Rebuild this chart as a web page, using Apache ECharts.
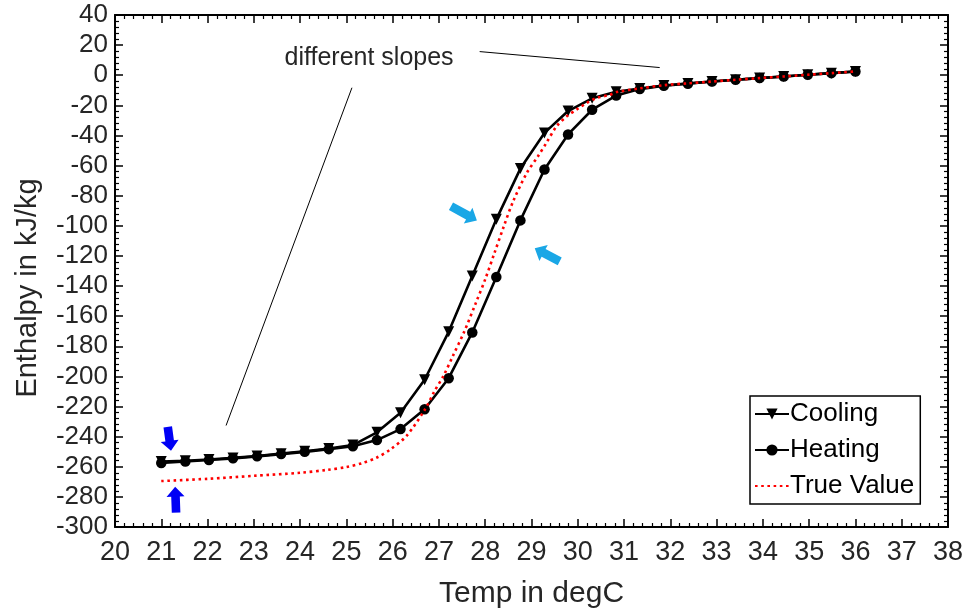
<!DOCTYPE html>
<html>
<head>
<meta charset="utf-8">
<script src="https://cdn.jsdelivr.net/npm/echarts@6/dist/echarts.min.js"></script>
<style>
  html, body { margin: 0; padding: 0; background: #fff; }
  #chart { width: 967px; height: 614px; }
</style>
</head>
<body>
<div id="chart"></div>
<script>
// Measured temperatures (degC) for the cooling and heating runs
const temps = [21.00, 21.52, 22.03, 22.55, 23.07, 23.59, 24.10, 24.62, 25.14, 25.66,
               26.17, 26.69, 27.21, 27.72, 28.24, 28.76, 29.28, 29.79, 30.31, 30.83,
               31.34, 31.86, 32.38, 32.90, 33.41, 33.93, 34.45, 34.97, 35.48, 36.00];

// Enthalpy (kJ/kg) while cooling
const cooling = [-256.5, -256.0, -255.2, -254.1, -252.8, -251.3, -249.7, -247.9, -245.6, -237.1,
                 -224.2, -202.2, -170.4, -133.3, -95.7, -62.0, -38.3, -23.8, -15.3, -11.0,
                 -8.8, -6.8, -5.5, -4.2, -3.0, -1.9, -0.8, 0.3, 1.4, 2.5];

// Enthalpy (kJ/kg) while heating
const heating = [-257.5, -256.5, -255.5, -254.4, -253.1, -251.6, -250.1, -248.3, -246.4, -242.3,
                 -235.0, -221.8, -201.2, -170.8, -134.0, -96.4, -62.6, -39.3, -22.9, -13.5,
                 -9.2, -7.0, -5.6, -4.2, -3.0, -1.9, -0.8, 0.3, 1.4, 2.5];

// Reference enthalpy curve
const trueTemps = [21.0, 22.0, 23.0, 24.0, 24.6, 25.0, 25.35, 25.65, 25.95, 26.3,
                   26.7, 26.9, 27.1, 27.3, 27.55, 27.8, 28.0, 28.2, 28.4, 28.6,
                   28.9, 29.14, 29.32, 29.54, 29.76, 29.97, 30.19, 30.40, 30.69, 30.84,
                   31.35, 31.86, 32.38, 32.90, 33.41, 33.93, 34.45, 34.97, 35.48, 36.0];
const trueValues = [-269.5, -268.0, -266.0, -264.0, -262.0, -260.2, -257.5, -254.0, -248.5, -239.5,
                    -221.8, -210.0, -199.5, -186.5, -170.0, -151.0, -135.5, -118.0, -100.5, -84.0,
                    -64.8, -53.8, -45.0, -34.0, -27.3, -22.9, -18.5, -15.2, -13.0, -11.2,
                    -8.7, -6.6, -5.4, -4.2, -3.0, -1.9, -0.8, 0.3, 1.4, 2.5];

// Axis ranges and tick steps
const xRange = [20, 38], xStep = 1;
const yRange = [-300, 40], yStep = 20;

const FONT = "'Liberation Sans', Arial, Helvetica, sans-serif";
const TEXT = '#262626';

const pairs = (xs, ys) => xs.map((x, i) => [x, ys[i]]);

const baseX = {
  type: 'value', min: xRange[0], max: xRange[1], interval: xStep,
  axisLine: { show: true, onZero: false, lineStyle: { color: '#000', width: 2 } },
  axisTick: { show: true, inside: true, length: 8, lineStyle: { color: '#000', width: 1.5 } },
  minorTick: { show: true, splitNumber: 5, length: 4, lineStyle: { color: '#000', width: 1.2 } },
  splitLine: { show: false }
};
const baseY = {
  type: 'value', min: yRange[0], max: yRange[1], interval: yStep,
  axisLine: { show: true, onZero: false, lineStyle: { color: '#000', width: 2 } },
  axisTick: { show: true, inside: true, length: 8, lineStyle: { color: '#000', width: 1.5 } },
  minorTick: { show: true, splitNumber: 5, length: 4, lineStyle: { color: '#000', width: 1.2 } },
  splitLine: { show: false }
};

const option = {
  animation: false,
  backgroundColor: '#fff',
  grid: { left: 115, top: 15, right: 19, bottom: 86, containLabel: false },
  xAxis: [
    Object.assign({}, baseX, {
      position: 'bottom',
      name: 'Temp in degC', nameLocation: 'middle', nameGap: 52,
      nameTextStyle: { fontFamily: FONT, fontSize: 30, color: TEXT },
      axisLabel: { fontFamily: FONT, fontSize: 27, color: TEXT, margin: 12 }
    }),
    Object.assign({}, baseX, { position: 'top', axisLabel: { show: false } })
  ],
  yAxis: [
    Object.assign({}, baseY, {
      position: 'left',
      axisLabel: { fontFamily: FONT, fontSize: 26, color: TEXT, margin: 7 }
    }),
    Object.assign({}, baseY, { position: 'right', axisLabel: { show: false } })
  ],
  legend: {
    orient: 'vertical', left: 750, top: 396,
    backgroundColor: '#fff', borderColor: '#000', borderWidth: 1.5, borderRadius: 0,
    padding: [5, 6, 5, 4], itemGap: 10, itemWidth: 34, itemHeight: 14,
    textStyle: { fontFamily: FONT, fontSize: 26, color: '#000', padding: [0, 0, 0, -4] },
    data: ['Cooling', 'Heating', { name: 'True Value', itemStyle: { opacity: 0 } }]
  },
  series: [
    {
      name: 'Cooling', type: 'line', data: pairs(temps, cooling),
      symbol: 'triangle', symbolRotate: 180, symbolSize: 11,
      lineStyle: { color: '#000', width: 2.6 }, itemStyle: { color: '#000' }, z: 3
    },
    {
      name: 'Heating', type: 'line', data: pairs(temps, heating),
      symbol: 'circle', symbolSize: 10.5,
      lineStyle: { color: '#000', width: 2.6 }, itemStyle: { color: '#000' }, z: 3
    },
    {
      name: 'True Value', type: 'line', data: pairs(trueTemps, trueValues),
      symbol: 'none', smooth: 0.3,
      lineStyle: { color: '#ff0000', width: 2.6, type: [2.6, 3.6] },
      itemStyle: { color: '#ff0000' }, z: 4
    }
  ]
};

const chart = echarts.init(document.getElementById('chart'), null, { renderer: 'canvas' });
chart.setOption(option);

// Annotations anchored in data coordinates
const px = (p) => chart.convertToPixel({ xAxisIndex: 0, yAxisIndex: 0 }, p);

function arrow(tip, tail, color) {
  const a = px(tip), b = px(tail);
  const dx = a[0] - b[0], dy = a[1] - b[1];
  const len = Math.hypot(dx, dy);
  const ux = dx / len, uy = dy / len, nx = -uy, ny = ux;
  const head = 10, sw = 4.3, hw = 9;
  const bx = a[0] - ux * head, by = a[1] - uy * head;
  const pts = [
    [b[0] + nx * sw, b[1] + ny * sw],
    [bx + nx * sw, by + ny * sw],
    [bx + nx * hw, by + ny * hw],
    [a[0], a[1]],
    [bx - nx * hw, by - ny * hw],
    [bx - nx * sw, by - ny * sw],
    [b[0] - nx * sw, b[1] - ny * sw]
  ];
  return { type: 'polygon', shape: { points: pts }, style: { fill: color }, z: 10 };
}

function segment(p, q) {
  const a = px(p), b = px(q);
  return { type: 'line', shape: { x1: a[0], y1: a[1], x2: b[0], y2: b[1] },
           style: { stroke: '#000', lineWidth: 1 }, z: 10 };
}

const labelPos = px([25.49, 11.5]);

chart.setOption({
  graphic: [
    { type: 'text', x: 28, y: 288, rotation: Math.PI / 2,
      style: { text: 'Enthalpy in kJ/kg', fontFamily: FONT, fontSize: 29, fill: TEXT,
               textAlign: 'center', textVerticalAlign: 'middle' } },
    { type: 'text', x: labelPos[0], y: labelPos[1],
      style: { text: 'different slopes', fontFamily: FONT, fontSize: 25, fill: TEXT,
               textAlign: 'center', textVerticalAlign: 'middle' }, z: 10 },
    segment([25.12, -8.3], [22.40, -232.6]),
    segment([27.88, 15.7], [31.77, 5.1]),
    arrow([21.21, -249.4], [21.14, -233.5], '#0000f5'),
    arrow([21.30, -273.2], [21.32, -290.4], '#0000f5'),
    arrow([27.82, -96.4], [27.26, -87.0], '#1aa7e6'),
    arrow([29.07, -114.9], [29.61, -123.6], '#1aa7e6')
  ]
});
</script>
</body>
</html>
